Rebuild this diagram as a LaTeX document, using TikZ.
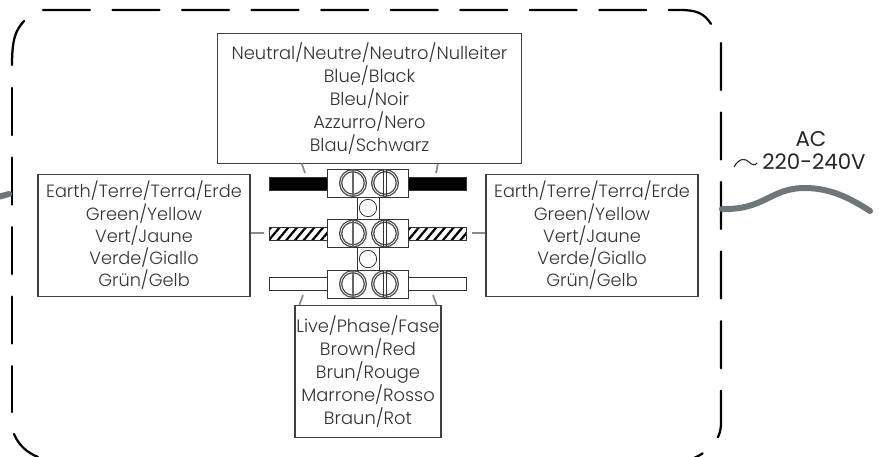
\documentclass[tikz,border=0pt]{standalone}
\usepackage{fontspec}
\setmainfont{Poppins Light}
\newfontfamily\acfont{Poppins}
\usetikzlibrary{arrows.meta, positioning, shapes, calc, patterns.meta}

\definecolor{wiregray}{HTML}{6D7678}
\definecolor{tickgray}{HTML}{8A8A8A}
\tikzset{
    infobox/.style={draw=black!75, line width=0.9pt, rectangle, align=center, inner sep=0pt, font=\fontsize{13.4}{17.2}\selectfont, text=black!80},
    sidebox/.style={infobox, font=\fontsize{13.3}{16.7}\selectfont, minimum width=159pt, minimum height=92pt},
    aclabel/.style={font=\acfont\fontsize{16}{18}\selectfont, text=black!85},
    housing/.style={line width=1.7pt, line cap=round, black},
    mains/.style={line width=4.5pt, line cap=round, wiregray},
    tick/.style={line width=1.3pt, tickgray},
    wirebar/.style={draw=black!80, line width=0.6pt, rectangle, inner sep=0pt, minimum width=43.5pt, minimum height=9.75pt},
    hatched/.style={wirebar, preaction={fill=white}, pattern={Lines[angle=50, distance=5pt, line width=1.7pt]}, pattern color=black},
    block/.style={draw=black!80, line width=0.6pt, fill=white, rectangle, inner sep=0pt, minimum width=60.75pt, minimum height=21pt},
    screw/.style={draw=black!70, line width=1pt, fill=white, circle, inner sep=0pt, minimum size=18.5pt, double=white, double distance=0.5pt},
    hole/.style={draw=black!80, line width=0.6pt, fill=white, circle, inner sep=0pt, minimum size=13pt}
}

\begin{document}
\begin{tikzpicture}[x=0.75pt, y=-0.75pt]
    \useasboundingbox (0,0) rectangle (879,457);

    % housing, one side at a time so the gaps fall where they should
    \begin{scope}
        \clip (0,0) rectangle (879,457);
        \draw[housing, dash pattern=on 35.25pt off 16.9pt] (43,10) -- (680,10) .. controls (696,10) and (704,13) .. (711,24);
        \draw[housing, dash pattern=on 35.25pt off 16.9pt] (721,43) -- (721,423) .. controls (721,440) and (710,451) .. (692,459);
        \draw[housing, dash pattern=on 35.25pt off 16.9pt] (12,88) -- (12,412);
        \draw[housing] (24,21) .. controls (16,30) and (12,38) .. (12,65);
        \draw[housing] (14,434) .. controls (19,446) and (28,453) .. (38,457);
    \end{scope}

    % mains lead
    \coordinate (leadin) at (722,209);
    \coordinate (leadout) at (870,211);
    \coordinate (stubin) at (-2,197);
    \coordinate (stubout) at (9,194);
    \draw[mains] (leadin) .. controls (765,210) and (770,188) .. (805,188) .. controls (830,188) and (850,198) .. (leadout);
    \draw[mains] (stubin) -- (stubout);
    \node (ac) at (811,139) [aclabel] {AC};
    \node (volt) at (814,162) [aclabel] {220-240V};
    \draw[line width=0.8pt, black!85] (734,167) .. controls (739,158) and (745,158) .. (749,162) .. controls (752,165) and (755,166) .. (757,163);

    % info boxes
    \node (neutral) at (369.5,98.5) [infobox, minimum width=228pt, minimum height=97pt] {Neutral/Neutre/Neutro/Nulleiter\\Blue/Black\\Bleu/Noir\\Azzurro/Nero\\Blau/Schwarz};
    \node (earthl) at (144,235.5) [sidebox] {Earth/Terre/Terra/Erde\\Green/Yellow\\Vert/Jaune\\Verde/Giallo\\Grün/Gelb};
    \node (earthr) at (592,235.5) [sidebox] {Earth/Terre/Terra/Erde\\Green/Yellow\\Vert/Jaune\\Verde/Giallo\\Grün/Gelb};
    \node (live) at (368,371.5) [infobox, minimum width=109.5pt, minimum height=99pt] {Live/Phase/Fase\\Brown/Red\\Brun/Rouge\\Marrone/Rosso\\Braun/Rot};

    % wires
    \node (blackl) at (298.5,183.5) [wirebar, fill=black] {};
    \node (blackr) at (437.5,183.5) [wirebar, fill=black] {};
    \node (earthwl) at (298.5,233.5) [hatched] {};
    \node (earthwr) at (437.5,233.5) [hatched] {};
    \node (livel) at (298.5,283.5) [wirebar] {};
    \node (liver) at (437.5,283.5) [wirebar] {};

    % terminal strip
    \node (neck) at (368,233) [draw=black!80, line width=0.6pt, fill=white, rectangle, inner sep=0pt, minimum width=16.5pt, minimum height=90pt] {};
    \node (blockt) at (368,183) [block] {};
    \node (blockm) at (368,233.5) [block] {};
    \node (blockb) at (368,284) [block] {};
    \node (holet) at (368,208) [hole] {};
    \node (holeb) at (368,259) [hole] {};

    \foreach \row/\ypos in {t/183, m/233.5, b/284} {
        \node (screwl\row) at (353,\ypos) [screw] {};
        \node (screwr\row) at (385,\ypos) [screw] {};
        \draw[black!60, line width=1pt] (screwl\row.north) -- (screwl\row.south);
        \draw[black!80, line width=0.5pt] ([xshift=-1.2pt]screwr\row.north) -- ([xshift=-1.2pt]screwr\row.south);
        \draw[black!80, line width=0.5pt] ([xshift=1.2pt]screwr\row.north) -- ([xshift=1.2pt]screwr\row.south);
    }

    % pointers from the boxes to the wires
    \coordinate (nl) at (305,173);
    \coordinate (nr) at (436,173);
    \coordinate (el) at (264,233);
    \coordinate (er) at (472,233);
    \coordinate (ll) at (303,295);
    \coordinate (lr) at (433,295);
    \draw[tick] (neutral.south west) ++(85,0) -- (nl);
    \draw[tick] (neutral.south west) ++(221,0) -- (nr);
    \draw[tick] (earthl.east |- el) -- (el);
    \draw[tick] (earthr.west |- er) -- (er);
    \draw[tick] (live.north west) ++(5,0) -- (ll);
    \draw[tick] (live.north east) ++(-5,0) -- (lr);
\end{tikzpicture}
\end{document}
